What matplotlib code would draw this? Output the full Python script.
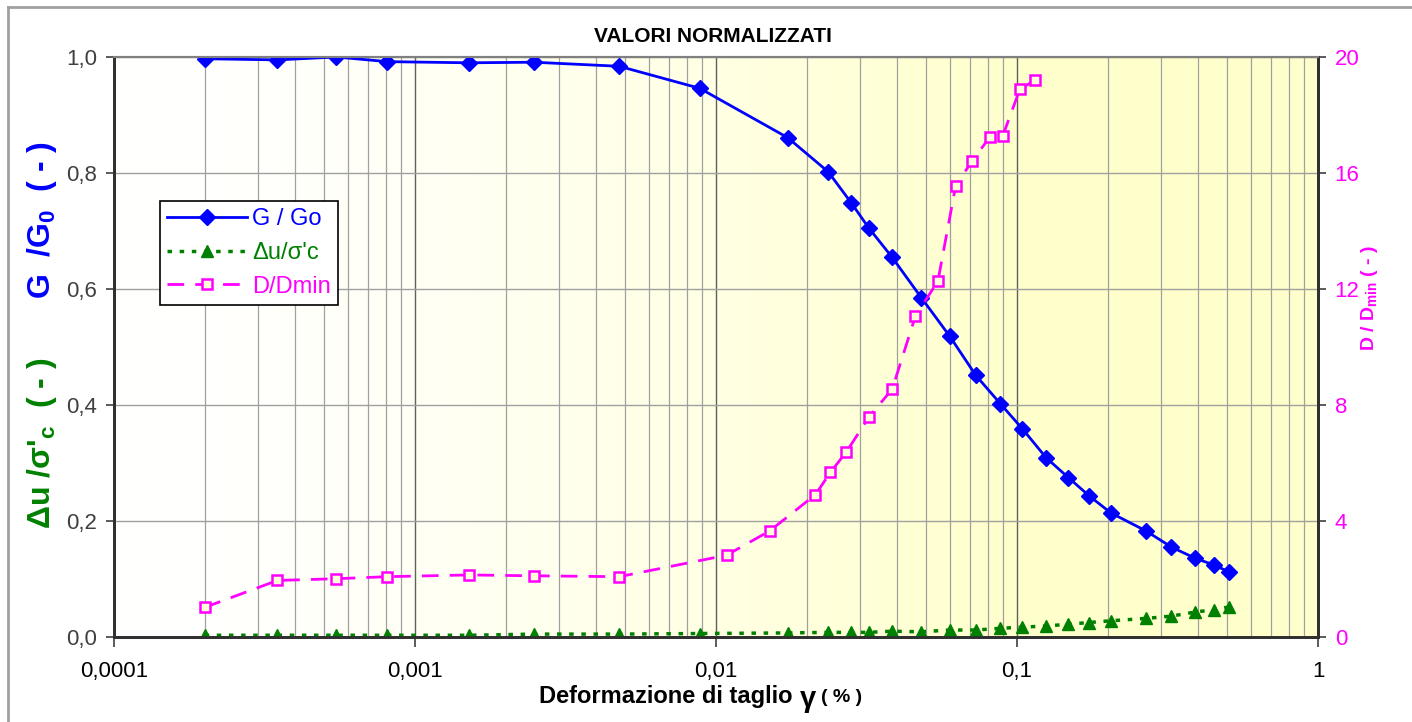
import numpy as np
import matplotlib.pyplot as plt
from matplotlib.lines import Line2D

plt.rcParams['font.family'] = ['Liberation Sans', 'DejaVu Sans']
plt.rcParams['mathtext.fontset'] = 'custom'
plt.rcParams['mathtext.rm'] = 'Liberation Sans'
plt.rcParams['mathtext.bf'] = 'Liberation Sans:bold'
plt.rcParams['mathtext.it'] = 'Liberation Sans:italic'

# deformazione di taglio (%) per G/Go e du/s'c
gamma = [2.0e-4, 3.49e-4, 5.48e-4, 8.08e-4, 1.51e-3, 2.48e-3, 4.77e-3, 8.83e-3,
         0.0173, 0.0236, 0.0281, 0.0322, 0.0383, 0.0481, 0.0597, 0.0730, 0.0881,
         0.1042, 0.125, 0.148, 0.174, 0.205, 0.268, 0.326, 0.390, 0.452, 0.507]
g_g0 = [0.997, 0.995, 1.000, 0.992, 0.990, 0.991, 0.984, 0.946,
        0.861, 0.802, 0.749, 0.705, 0.656, 0.585, 0.519, 0.451, 0.402,
        0.359, 0.309, 0.275, 0.243, 0.214, 0.183, 0.155, 0.136, 0.124, 0.112]
du_sc = [0.003, 0.003, 0.003, 0.003, 0.003, 0.005, 0.005, 0.006,
         0.007, 0.008, 0.008, 0.008, 0.010, 0.009, 0.012, 0.012, 0.015,
         0.017, 0.019, 0.022, 0.025, 0.028, 0.032, 0.036, 0.043, 0.047, 0.052]

# D/Dmin
gamma_d = [2.0e-4, 3.49e-4, 5.48e-4, 8.08e-4, 1.51e-3, 2.48e-3, 4.77e-3, 0.01084,
           0.01509, 0.0214, 0.0240, 0.0271, 0.0322, 0.0385, 0.0460, 0.0546,
           0.0625, 0.0708, 0.0813, 0.0896, 0.1023, 0.1152]
d_dmin = [1.02, 1.95, 2.01, 2.08, 2.14, 2.11, 2.08, 2.82,
          3.66, 4.91, 5.68, 6.38, 7.58, 8.55, 11.07, 12.27,
          15.54, 16.41, 17.24, 17.27, 18.9, 19.2]

y_ticks = [0.0, 0.2, 0.4, 0.6, 0.8, 1.0]
y_ticklabels = ['0,0', '0,2', '0,4', '0,6', '0,8', '1,0']
y2_ticks = [0, 4, 8, 12, 16, 20]
x_ticks = [1e-4, 1e-3, 1e-2, 1e-1, 1]
x_ticklabels = ['0,0001', '0,001', '0,01', '0,1', '1']

W, H = 1412, 722
fig = plt.figure(figsize=(W / 100, H / 100), dpi=100)
ax = fig.add_axes([114 / W, 1 - 637 / H, (1318 - 114) / W, (637 - 57) / H])

# sfondo sfumato bianco -> giallo chiaro
grad = np.linspace(0, 1, 400)
t = np.clip(grad / 0.75, 0, 1) ** 1.5
img = np.ones((1, 400, 3))
img[0, :, 2] = 1.0 - t * (1 - 0.80)
ax.imshow(img, extent=[0, 1, 0, 1], transform=ax.transAxes, aspect='auto', zorder=0)

ax.set_xscale('log')
ax.set_xlim(1e-4, 1)
ax.set_ylim(0, 1)

# griglia
ax.grid(True, which='minor', axis='x', color='#a0a0a0', lw=0.9, zorder=1)
ax.grid(True, which='major', axis='x', color='#606060', lw=1.0, zorder=1)
ax.grid(True, which='major', axis='y', color='#a0a0a0', lw=1.0, zorder=1)
ax.set_axisbelow(True)

ax.plot(gamma, g_g0, color='#0000ff', lw=2, marker='D', markersize=8.5, zorder=5)
ax.plot(gamma, du_sc, color='#008000', lw=2.5, linestyle=(0, (1.3, 2.2)),
        marker='^', markersize=9, zorder=5)

ax2 = ax.twinx()
ax2.set_ylim(0, 20)
ax2.plot(gamma_d, d_dmin, color='#ff00ff', lw=2, linestyle=(0, (6, 4)),
         marker='s', markersize=7.5, markerfacecolor='#ffffd8',
         markeredgecolor='#ff00ff', markeredgewidth=1.8, zorder=4)

ax.set_yticks(y_ticks)
ax.set_yticklabels(y_ticklabels, color='#404040', fontsize=16)
ax.set_xticks(x_ticks)
ax.set_xticklabels(x_ticklabels, fontsize=16)
ax.tick_params(axis='x', which='minor', length=0)
ax.tick_params(axis='x', which='major', length=7, width=1.2, color='#404040', pad=10)
ax.tick_params(axis='y', length=6, width=1.2, color='#404040', pad=6)
ax2.set_yticks(y2_ticks)
ax2.set_yticklabels([str(v) for v in y2_ticks], color='#ff00ff', fontsize=16)
ax2.tick_params(axis='y', length=6, width=1.2, color='#404040', pad=6)

for a in (ax, ax2):
    a.spines['top'].set_color('#808080')
    a.spines['top'].set_linewidth(1.5)
    for s in ('left', 'right', 'bottom'):
        a.spines[s].set_color('#303030')
        a.spines[s].set_linewidth(2)

# legenda
handles = [
    Line2D([], [], color='#0000ff', lw=2, marker='D', markersize=8.5),
    Line2D([], [], color='#008000', lw=2.5, linestyle=(0, (1.3, 2.2)), marker='^', markersize=9),
    Line2D([], [], color='#ff00ff', lw=2, linestyle=(0, (6, 4)), marker='s', markersize=7.5,
           markerfacecolor='#ffffd8', markeredgewidth=1.8),
]
labels = ['G / Go', "\u0394u/\u03c3'c", 'D/Dmin']
leg = fig.legend(handles, labels, loc='upper left', bbox_to_anchor=(160 / W, 1 - 201 / H),
                 fontsize=17, frameon=True, fancybox=False, framealpha=1,
                 edgecolor='black', handlelength=3.4, handletextpad=0.2,
                 borderpad=0.3, labelspacing=0.5, borderaxespad=0)
leg.get_frame().set_linewidth(1.2)
for txt, c in zip(leg.get_texts(), ['#0000ff', '#008000', '#ff00ff']):
    txt.set_color(c)

# titoli
fig.text(713 / W, 1 - 36 / H, 'VALORI NORMALIZZATI', ha='center', va='center',
         fontsize=15, fontweight='bold')
fig.text(42 / W, 1 - 220 / H, r'G  /G$_\mathbf{0}$  ( - )', rotation=90, ha='center',
         va='center', fontsize=23, fontweight='bold', color='#0000ff')
fig.text(42 / W, 1 - 443 / H, "\u0394u /\u03c3'$_\\mathbf{c}$  ( - )", rotation=90,
         ha='center', va='center', fontsize=23, fontweight='bold', color='#008000')
fig.text(1369 / W, 1 - 298 / H, r'D / D$_\mathbf{min}$ ( - )', rotation=90, ha='center',
         va='center', fontsize=14, fontweight='bold', color='#ff00ff')

fig.text(793 / W, 1 - 697 / H, 'Deformazione di taglio', ha='right', va='center',
         fontsize=17, fontweight='bold')
fig.text(808 / W, 1 - 699 / H, '\u03b3', ha='center', va='center',
         fontsize=21, fontweight='bold')
fig.text(821 / W, 1 - 697 / H, '( % )', ha='left', va='center',
         fontsize=14, fontweight='bold')

# cornice esterna
fig.add_artist(Line2D([8 / W, 1], [1 - 7 / H, 1 - 7 / H], transform=fig.transFigure,
                      color='#a0a0a0', lw=2))
fig.add_artist(Line2D([8 / W, 8 / W], [0, 1 - 7 / H], transform=fig.transFigure,
                      color='#a0a0a0', lw=2))

fig.savefig('out.png', dpi=100)
